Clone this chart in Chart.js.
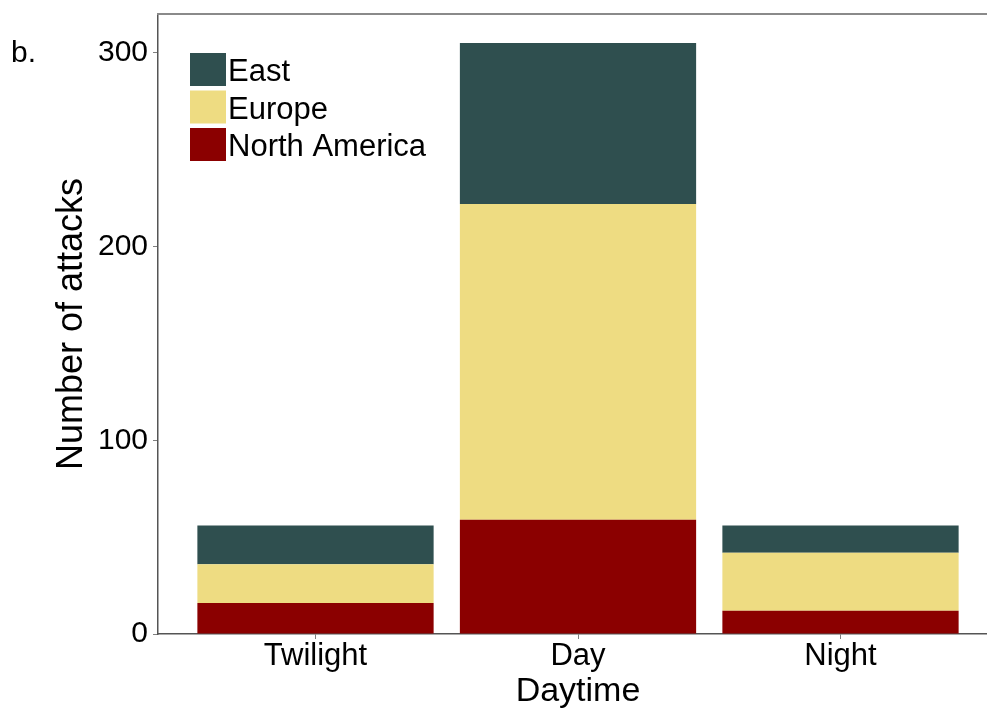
<!DOCTYPE html>
<html>
<head>
<meta charset="utf-8">
<script src="https://cdn.jsdelivr.net/npm/chart.js@4"></script>
<style>
  html, body { margin: 0; padding: 0; background: #fff; overflow: hidden; }
  #wrap { width: 1000px; height: 710px; }
</style>
</head>
<body>
<div id="wrap"><canvas id="c" width="1000" height="710"></canvas></div>
<script>
// Attacks by time of day, stacked by region
const categories = ['Twilight', 'Day', 'Night'];
const northAmericaValues = [16, 59, 12];
const europeValues = [20, 163, 30];
const eastValues = [20, 83, 14];
const yTickValues = [0, 100, 200, 300];

const FONT = "'Liberation Sans', Arial, sans-serif";

const toPoints = vals => vals.map((v, i) => ({ x: i + 1, y: v }));

// Legend box drawn inside the plot area, top-left, top series first
const insideLegend = {
  id: 'insideLegend',
  afterDraw(chart) {
    const { ctx, chartArea } = chart;
    const sets = chart.data.datasets.slice().reverse();
    const x0 = chartArea.left + 32;
    const y0 = chartArea.top + 39;
    const boxW = 36, boxH = 33, pitch = 37.5;
    ctx.save();
    ctx.font = '31px ' + FONT;
    ctx.textBaseline = 'middle';
    ctx.textAlign = 'left';
    sets.forEach((ds, i) => {
      const y = y0 + i * pitch;
      ctx.fillStyle = ds.backgroundColor;
      ctx.fillRect(x0, y, boxW, boxH);
      ctx.fillStyle = '#000';
      ctx.fillText(ds.label, x0 + boxW + 2, y + boxH / 2 + 3);
    });
    ctx.restore();
  }
};

// Panel letter and the top frame line
const decorations = {
  id: 'decorations',
  afterDraw(chart) {
    const { ctx, chartArea } = chart;
    ctx.save();
    ctx.strokeStyle = '#8a8a8a';
    ctx.lineWidth = 2;
    ctx.beginPath();
    ctx.moveTo(chartArea.left - 1, chartArea.top);
    ctx.lineTo(chart.width, chartArea.top);
    ctx.stroke();
    ctx.fillStyle = '#000';
    ctx.font = '30px ' + FONT;
    ctx.textBaseline = 'alphabetic';
    ctx.fillText('b.', 11, 62);
    ctx.restore();
  }
};

new Chart(document.getElementById('c'), {
  type: 'bar',
  data: {
    datasets: [
      { label: 'North America', data: toPoints(northAmericaValues), backgroundColor: '#8B0000' },
      { label: 'Europe', data: toPoints(europeValues), backgroundColor: '#EEDC82' },
      { label: 'East', data: toPoints(eastValues), backgroundColor: '#2F4F4F' }
    ]
  },
  options: {
    responsive: false,
    animation: false,
    layout: { padding: { top: 14, right: 2, left: 0, bottom: 0 } },
    datasets: { bar: { barPercentage: 0.9, categoryPercentage: 1.0, borderWidth: 0 } },
    plugins: { legend: { display: false }, tooltip: { enabled: false } },
    scales: {
      x: {
        type: 'linear',
        stacked: true,
        offset: false,
        min: 0.4,
        max: 3.6,
        afterBuildTicks: s => { s.ticks = categories.map((c, i) => ({ value: i + 1 })); },
        afterFit: s => { s.height = 76; s.paddingLeft = 0; s.paddingRight = 0; },
        ticks: {
          callback: v => categories[v - 1] || '',
          color: '#000',
          font: { family: FONT, size: 31, lineHeight: 1.0 },
          padding: 2,
          maxRotation: 0
        },
        grid: { display: true, offset: false, drawOnChartArea: false, drawTicks: true, tickLength: 5, color: '#7f7f7f', lineWidth: 1 },
        border: { display: true, color: '#555', width: 1.5 },
        title: {
          display: true,
          text: 'Daytime',
          color: '#000',
          font: { family: FONT, size: 34, lineHeight: 1.1 },
          padding: { top: 0, bottom: 0 }
        }
      },
      y: {
        stacked: true,
        min: 0,
        max: 320,
        afterBuildTicks: s => { s.ticks = yTickValues.map(v => ({ value: v })); },
        afterFit: s => { s.width = 158; s.paddingTop = 0; s.paddingBottom = 0; },
        ticks: {
          color: '#000',
          font: { family: FONT, size: 30 },
          padding: 5
        },
        grid: { display: true, drawOnChartArea: false, drawTicks: true, tickLength: 5, color: '#7f7f7f', lineWidth: 1 },
        border: { display: true, color: '#555', width: 1.5 },
        title: {
          display: true,
          text: 'Number of attacks',
          color: '#000',
          font: { family: FONT, size: 36, lineHeight: 1.2 },
          padding: { top: 50, bottom: 0 }
        }
      }
    }
  },
  plugins: [insideLegend, decorations]
});
</script>
</body>
</html>
